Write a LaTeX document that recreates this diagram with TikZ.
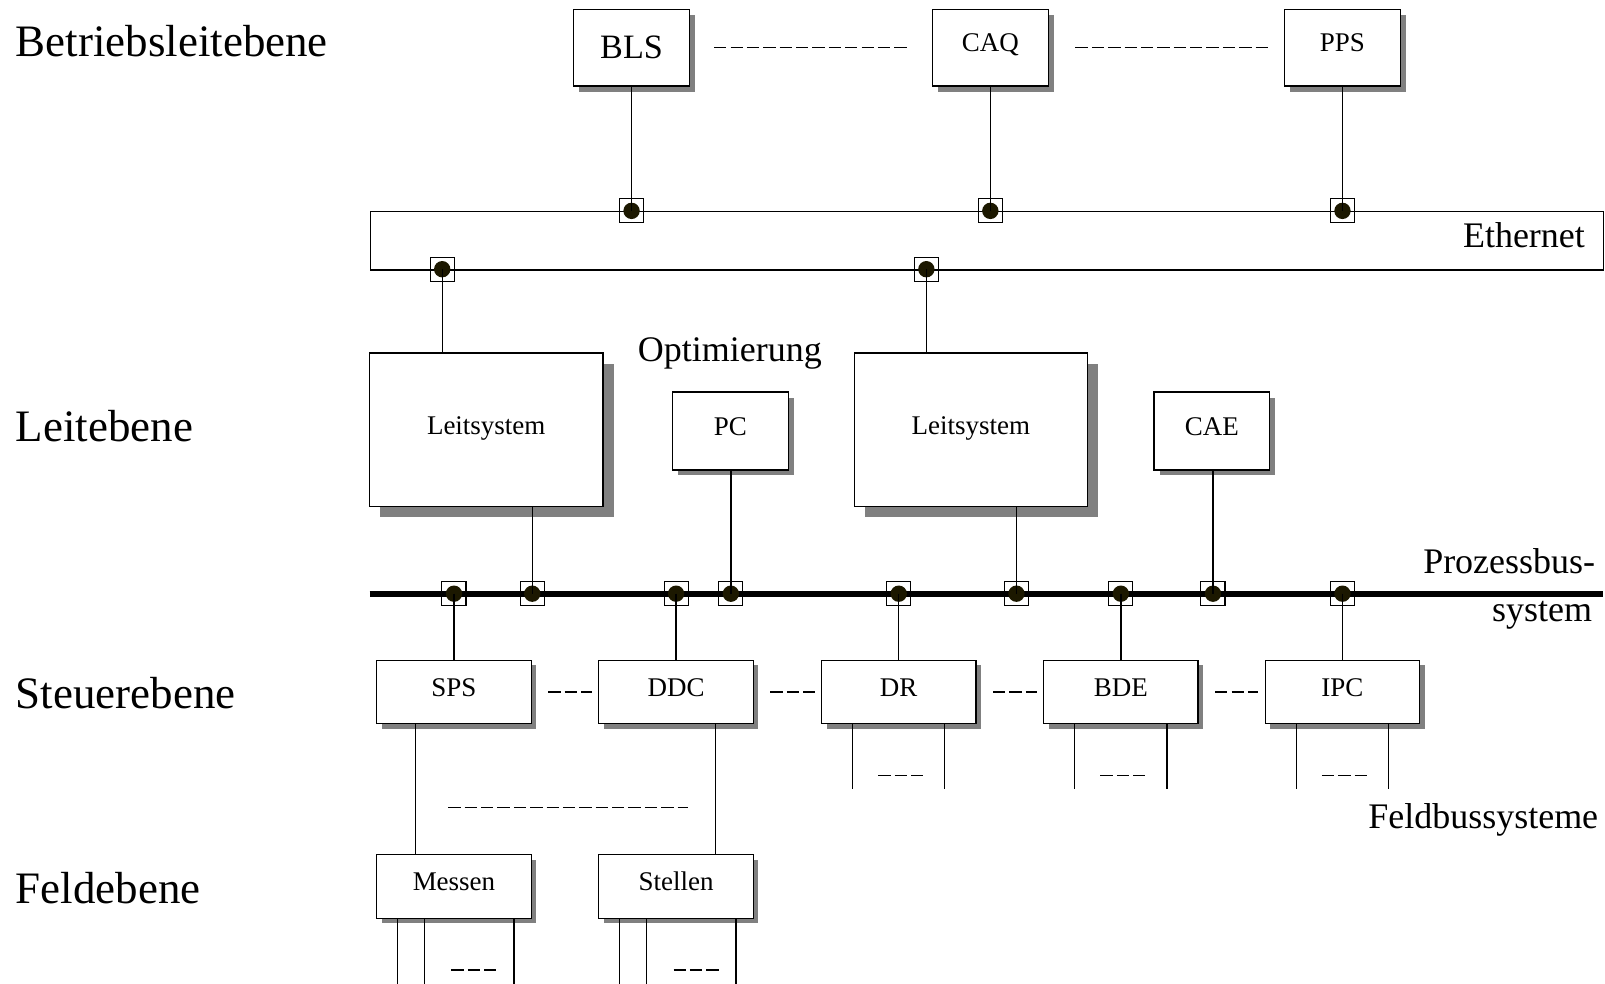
\documentclass[tikz,border=0pt]{standalone}
\usepackage{fontspec}
\setmainfont{Liberation Serif}
\usepackage{xcolor}
\usetikzlibrary{shadows}
\definecolor{shade}{RGB}{128,128,128}
\definecolor{dotfill}{RGB}{28,24,0}

\begin{document}
\begin{tikzpicture}[x=0.2mm,y=-0.2mm,line width=0.75pt,
 unit/.style={draw,fill=white,inner sep=0pt,font=\fontsize{15}{18}\selectfont,text height=3.5mm,text depth=1.9mm},
 device/.style={unit,minimum width=22.6mm,minimum height=15mm,drop shadow={shadow xshift=1.1mm,shadow yshift=-1.1mm,fill=shade,opacity=1}},
 station/.style={unit,minimum width=30.2mm,minimum height=12.4mm,drop shadow={shadow xshift=1mm,shadow yshift=-1mm,fill=shade,opacity=1}},
 system/.style={unit,minimum width=45.6mm,minimum height=30mm,drop shadow={shadow xshift=2.1mm,shadow yshift=-2.1mm,fill=shade,opacity=1}},
 port/.style={draw,minimum size=4.7mm,inner sep=0pt,line width=0.6pt,path picture={\fill[dotfill] (path picture bounding box.center) circle (1.6mm);}},
 bus/.style={line width=1.2mm},
 gap/.style={dash pattern=on 2.4mm off 0.8mm},
 level/.style={font=\fontsize{25}{30}\selectfont,inner sep=0pt,anchor=base west},
 netname/.style={font=\fontsize{20}{24}\selectfont,inner sep=0pt,anchor=base east}]
\useasboundingbox (0,0) rectangle (1568,961);

% levels
\node[level] (lvBL) at (14.7,55.4) {Betriebsleitebene};
\node[level] (lvL) at (14.7,431.5) {Leitebene};
\node[level] (lvS) at (14.7,692) {Steuerebene};
\node[level] (lvF) at (14.7,883) {Feldebene};

% Betriebsleitebene
\node[device,font=\fontsize{19}{22}\selectfont,text height=4.4mm,text depth=0pt] (BLS) at (617,46.5) {BLS};
\node[device] (CAQ) at (967.5,46.5) {CAQ};
\node[device] (PPS) at (1311.5,46.5) {PPS};
\draw[gap,shorten <=4.7mm,shorten >=4.4mm] (BLS) -- (CAQ);
\draw[gap,shorten <=5.2mm,shorten >=3mm] (CAQ) -- (PPS);

% Ethernet
\node[draw,minimum width=241mm,minimum height=11.4mm,inner sep=0pt,anchor=north west] (eth) at (361,206) {};
\node[netname] (ethname) at (1549,242) {Ethernet};
\foreach \n in {BLS,CAQ,PPS}{
  \node[port] (p\n) at (\n |- eth.north) {};
  \draw (\n) -- (p\n.center);
}
\node[port] (pE1) at (432,263) {};
\node[port] (pE2) at (905,263) {};

% Leitebene
\node[system] (L1) at (475,420) {Leitsystem};
\node[system] (L2) at (948.5,420) {Leitsystem};
\node[device,minimum height=15.2mm] (PC) at (713.5,421) {PC};
\node[device,minimum height=15.2mm] (CAE) at (1184,421) {CAE};
\node[netname,anchor=base] (opt) at (713,353) {Optimierung};
\draw (pE1.center) -- (pE1 |- L1.north);
\draw (pE2.center) -- (pE2 |- L2.north);

% Prozessbus
\coordinate (busW) at (361,580);
\coordinate (busE) at (1566,580);
\draw[bus] (busW) -- (busE);
\node[netname] (pbus1) at (1559,560) {Prozessbus-};
\node[netname] (pbus2) at (1556,607) {system};

% Steuerebene
\node[station] (SPS) at (443.5,676) {SPS};
\node[station] (DDC) at (660.5,676) {DDC};
\node[station] (DR) at (878,676) {DR};
\node[station] (BDE) at (1095,676) {BDE};
\node[station] (IPC) at (1311.5,676) {IPC};
\foreach \a/\b in {SPS/DDC,DDC/DR,DR/BDE,BDE/IPC}
  \draw[gap,shorten <=3.2mm,shorten >=1.2mm] (\a) -- (\b);

\node[port] (pL1) at (520,580) {};
\node[port] (pL2) at (993,580) {};
\node[port] (pPC) at (714,580) {};
\node[port] (pCAE) at (1185,580) {};
\draw (L1.south -| pL1) -- (pL1.center);
\draw (L2.south -| pL2) -- (pL2.center);
\draw (PC.south -| pPC) -- (pPC.center);
\draw (CAE.south -| pCAE) -- (pCAE.center);
\foreach \n in {SPS,DDC,DR,BDE,IPC}{
  \node[port] (p\n) at (\n |- busW) {};
  \draw (p\n.center) -- (p\n |- \n.north);
}

% Feldbusse
\foreach \b in {DR,BDE,IPC}{
  \draw ([xshift=-9mm]\b.south) -- ++(0,63);
  \draw ([xshift=9mm]\b.south) -- ++(0,63);
  \draw[gap] ([xshift=-4mm,yshift=-10mm]\b.south) -- ++(44,0);
}
\node[netname] (fbus) at (1562,809) {Feldbussysteme};

% Feldebene
\node[station] (Messen) at (443.5,866) {Messen};
\node[station] (Stellen) at (660.5,866) {Stellen};
\draw ([xshift=-7.5mm]SPS.south) -- ([xshift=-7.5mm]Messen.north);
\draw ([xshift=7.7mm]DDC.south) -- ([xshift=7.7mm]Stellen.north);
\coordinate (fbW) at (438,789);
\coordinate (fbE) at (672,789);
\draw[gap] (fbW) -- (fbE);
\foreach \b in {Messen,Stellen}{
  \foreach \s in {-11,-5.8,11.7}
    \draw ([xshift=\s mm]\b.south) -- ++(0,70);
  \draw[gap] ([xshift=-0.5mm,yshift=-10mm]\b.south) -- ++(44,0);
}
\end{tikzpicture}
\end{document}
